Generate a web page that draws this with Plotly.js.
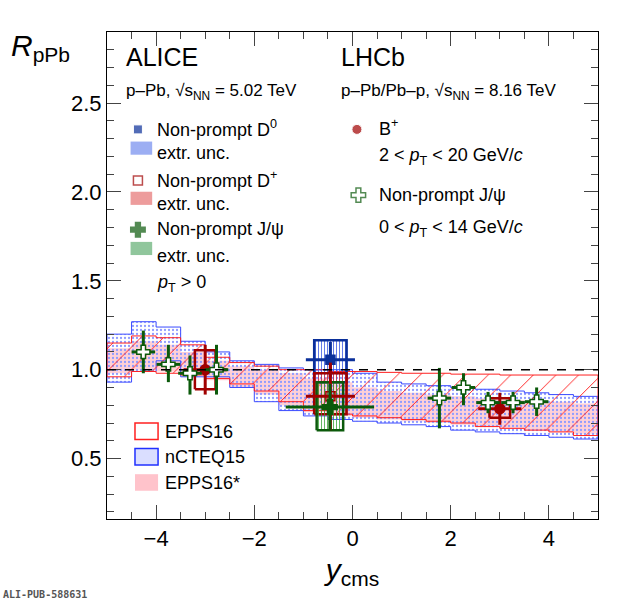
<!DOCTYPE html>
<html>
<head>
<meta charset="utf-8">
<script src="https://cdn.plot.ly/plotly-3.0.1.min.js"></script>
<style>body{margin:0;background:#fff}#plot{width:620px;height:600px}</style>
</head>
<body>
<div id="plot"></div>
<script>
// model bands: 20 bins of 0.5 in y_cms
const binEdges = [-5,-4.5,-4,-3.5,-3,-2.5,-2,-1.5,-1,-0.5,0,0.5,1,1.5,2,2.5,3,3.5,4,4.5,5];
const ncteqHi = [1.20,1.27,1.24,1.16,1.10,1.05,1.03,1.01,1.00,1.00,0.98,0.93,0.92,0.91,0.90,0.89,0.88,0.87,0.86,0.85];
const ncteqLo = [0.93,0.99,1.05,0.96,0.96,0.90,0.82,0.77,0.74,0.72,0.71,0.70,0.69,0.68,0.66,0.65,0.64,0.63,0.62,0.61];
const eppsHi  = [1.15,1.19,1.18,1.14,1.07,1.04,1.02,1.00,1.00,0.99,0.99,0.985,0.98,0.98,0.975,0.975,0.97,0.97,0.97,0.97];
const eppsLo  = [0.96,0.99,0.98,0.97,0.95,0.92,0.88,0.82,0.77,0.75,0.74,0.73,0.72,0.71,0.70,0.68,0.67,0.66,0.65,0.63];
const eppsStarHi = [1.12,1.16,1.14,1.10,1.05,1.02,1.00,0.98,0.95,0.93,0.90,0.88,0.87,0.86,0.85,0.84,0.83,0.82,0.82,0.81];
const eppsStarLo = [0.98,1.00,0.99,0.97,0.94,0.90,0.86,0.80,0.76,0.74,0.73,0.72,0.71,0.70,0.69,0.68,0.67,0.66,0.65,0.64];

// ALICE
const aliceD0 = {y: [-0.45], r: [1.056], stat: [0.10], xerr: [0.5], boxW: [0.33], boxLo: [0.93], boxHi: [1.165]};
const aliceDplus = {y: [-0.45], r: [0.85], stat: [0.19], xerr: [0.5], boxW: [0.33], boxLo: [0.75], boxHi: [0.98]};
const aliceJpsi = {y: [-0.46], r: [0.79], stat: [0.13], xerr: [0.9], boxW: [0.27], boxLo: [0.66], boxHi: [0.93]};

// LHCb
const lhcbB = {y: [-3.0, 3.0], r: [1.00, 0.78], stat: [0.14, 0.09], xerr: [0.44, 0.44], boxW: [0.21, 0.21], boxLo: [0.89, 0.73], boxHi: [1.11, 0.84]};
const lhcbJpsiY = [-4.26, -3.75, -3.31, -2.77, 1.77, 2.26, 2.76, 3.27, 3.75];
const lhcbJpsiR = [1.10, 1.03, 0.98, 1.00, 0.84, 0.90, 0.815, 0.815, 0.82];
const lhcbJpsiHi = [0.12, 0.11, 0.10, 0.14, 0.17, 0.08, 0.06, 0.06, 0.08];
const lhcbJpsiLo = [0.12, 0.10, 0.12, 0.14, 0.17, 0.10, 0.06, 0.06, 0.08];

const FONT = "Liberation Sans, Arial, sans-serif";
const DRED = "#a00000", DGREEN = "#0b5a0b", DBLUE = "#0a2f9a";

function band(hi, lo) {
    var x = [], y = [];
    for (var i = 0; i < hi.length; i++) { x.push(binEdges[i], binEdges[i+1]); y.push(hi[i], hi[i]); }
    for (var i = lo.length - 1; i >= 0; i--) { x.push(binEdges[i+1], binEdges[i]); y.push(lo[i], lo[i]); }
    x.push(x[0]); y.push(y[0]);
    return {x: x, y: y};
}

function boxes(set, color, pattern, bg) {
    var x = [], y = [];
    set.y.forEach((c, i) => {
        x.push(c - set.boxW[i], c + set.boxW[i], c + set.boxW[i], c - set.boxW[i], c - set.boxW[i], null);
        y.push(set.boxLo[i], set.boxLo[i], set.boxHi[i], set.boxHi[i], set.boxLo[i], null);
    });
    var t = {x: x, y: y, mode: "lines", line: {color: color, width: 2.5}, showlegend: false, hoverinfo: "skip"};
    if (pattern) {
        t.fill = "toself";
        t.fillcolor = "rgba(0,0,0,0)";
        t.fillpattern = {shape: pattern, fgcolor: bg, size: 3, solidity: 0.25};
    }
    return t;
}

function points(set, color, symbol, size) {
    return {x: set.y, y: set.r, mode: "markers", showlegend: false,
        marker: {symbol: symbol, color: color, size: size, line: {color: color, width: 1.5}},
        error_y: {type: "data", array: set.stat, color: color, thickness: 3, width: 0},
        error_x: {type: "data", array: set.xerr, color: color, thickness: 3, width: 0}};
}

var bs = band(eppsStarHi, eppsStarLo), bn = band(ncteqHi, ncteqLo), be = band(eppsHi, eppsLo);
var data = [
    {x: bs.x, y: bs.y, fill: "toself", fillcolor: "rgba(255,170,180,0.55)", line: {width: 0}, mode: "lines", showlegend: false, hoverinfo: "skip"},
    {x: bn.x, y: bn.y, fill: "toself", fillcolor: "rgba(0,0,0,0)", fillpattern: {shape: ".", fgcolor: "#8f9bff", size: 4, solidity: 0.25},
        line: {color: "#3b4bff", width: 1}, mode: "lines", showlegend: false, hoverinfo: "skip"},
    {x: be.x, y: be.y, fill: "toself", fillcolor: "rgba(0,0,0,0)", fillpattern: {shape: "/", fgcolor: "#ff2020", size: 16, solidity: 0.06},
        line: {color: "#ff2020", width: 1}, mode: "lines", showlegend: false, hoverinfo: "skip"},
    boxes(aliceD0, DBLUE, "|", "#3050e0"),
    boxes(aliceDplus, DRED, "|", "#e03030"),
    boxes(aliceJpsi, DGREEN, "|", "#30a030"),
    boxes(lhcbB, DRED, null),
    points(aliceD0, DBLUE, "square", 9),
    points(aliceDplus, DRED, "square-open", 9),
    points(aliceJpsi, DGREEN, "cross", 12),
    points(lhcbB, DRED, "circle", 10),
    {x: lhcbJpsiY, y: lhcbJpsiR, mode: "markers", showlegend: false,
        marker: {symbol: "cross", color: "white", size: 11, line: {color: DGREEN, width: 1.5}},
        error_y: {type: "data", symmetric: false, array: lhcbJpsiHi, arrayminus: lhcbJpsiLo, color: DGREEN, thickness: 3, width: 0},
        error_x: {type: "data", array: lhcbJpsiY.map(() => 0.24), color: DGREEN, thickness: 3, width: 0}},
    // legend glyphs on an overlay 0..1 axis
    {x: [0.063, 0.509], y: [0.80, 0.80], xaxis: "x2", yaxis: "y2", mode: "markers", showlegend: false,
        marker: {symbol: ["square", "circle"], color: [DBLUE, DRED], size: [9, 10]}},
    {x: [0.063, 0.063, 0.512], y: [0.695, 0.594, 0.665], xaxis: "x2", yaxis: "y2", mode: "markers", showlegend: false,
        marker: {symbol: ["square-open", "cross", "cross"], color: [DRED, DGREEN, "white"], size: [9, 12, 12],
            line: {color: [DRED, DGREEN, DGREEN], width: 1.5}}}
];

function rect(x0, y0, x1, y1, fill, line) {
    return {type: "rect", xref: "paper", yref: "paper", x0: x0, y0: y0, x1: x1, y1: y1,
        fillcolor: fill, line: {color: line || fill, width: line ? 1.5 : 0}};
}
function note(x, y, text, size, anchor) {
    return {xref: "paper", yref: "paper", x: x, y: y, text: text, showarrow: false,
        xanchor: anchor || "left", yanchor: "middle", font: {family: FONT, size: size, color: "black"}};
}

var sqrt = "\u221As<sub>NN</sub>";
var layout = {
    width: 620, height: 600,
    margin: {l: 107, r: 22, t: 32, b: 81},
    paper_bgcolor: "white", plot_bgcolor: "white",
    font: {family: FONT, size: 22, color: "black"},
    xaxis: {range: [-5, 5], ticks: "inside", ticklen: 14, tickwidth: 1, dtick: 2, mirror: "allticks",
        showline: true, linecolor: "black", showgrid: false, zeroline: false,
        minor: {ticks: "inside", ticklen: 7, dtick: 0.5},
        title: {text: "<i>y</i><sub>cms</sub>", font: {size: 30}, standoff: 8}},
    yaxis: {range: [0.16, 2.9], ticks: "inside", ticklen: 14, tickwidth: 1, dtick: 0.5, tickformat: ".1f",
        mirror: "allticks", showline: true, linecolor: "black", showgrid: false, zeroline: false,
        minor: {ticks: "inside", ticklen: 7, dtick: 0.1}},
    xaxis2: {overlaying: "x", range: [0, 1], visible: false},
    yaxis2: {overlaying: "y", range: [0, 1], visible: false},
    shapes: [
        {type: "line", xref: "x", yref: "y", x0: -5, x1: 5, y0: 1, y1: 1, line: {color: "black", width: 1.5, dash: "dash"}},
        rect(0.048, 0.748, 0.092, 0.775, "rgba(90,120,235,0.6)"),
        rect(0.048, 0.645, 0.092, 0.672, "rgba(225,90,90,0.6)"),
        rect(0.048, 0.542, 0.092, 0.569, "rgba(70,160,90,0.6)"),
        rect(0.057, 0.163, 0.104, 0.197, "rgba(0,0,0,0)", "#ff2020"),
        rect(0.057, 0.111, 0.104, 0.145, "rgba(150,160,255,0.35)", "#2030ff"),
        rect(0.057, 0.058, 0.104, 0.092, "rgba(255,180,190,0.8)")
    ],
    annotations: [
        {xref: "paper", yref: "paper", x: -0.2, y: 1.01, xanchor: "left", yanchor: "top", showarrow: false,
            text: "<i>R</i><sub>pPb</sub>", font: {family: FONT, size: 30}},
        note(0.035, 0.949, "ALICE", 25),
        note(0.473, 0.949, "LHCb", 25),
        note(0.035, 0.877, "p\u2013Pb, " + sqrt + " = 5.02 TeV", 17),
        note(0.473, 0.877, "p\u2013Pb/Pb\u2013p, " + sqrt + " = 8.16 TeV", 17),
        note(0.098, 0.802, "Non-prompt D<sup>0</sup>", 18),
        note(0.098, 0.751, "extr. unc.", 18),
        note(0.098, 0.697, "Non-prompt D<sup>+</sup>", 18),
        note(0.098, 0.646, "extr. unc.", 18),
        note(0.098, 0.595, "Non-prompt J/\u03c8", 18),
        note(0.098, 0.541, "extr. unc.", 18),
        note(0.098, 0.484, "<i>p</i><sub>T</sub> > 0", 18),
        note(0.55, 0.804, "B<sup>+</sup>", 18),
        note(0.55, 0.745, "2 < <i>p</i><sub>T</sub> < 20 GeV/<i>c</i>", 18),
        note(0.55, 0.665, "Non-prompt J/\u03c8", 18),
        note(0.55, 0.597, "0 < <i>p</i><sub>T</sub> < 14 GeV/<i>c</i>", 18),
        note(0.114, 0.179, "EPPS16", 18),
        note(0.114, 0.127, "nCTEQ15", 18),
        note(0.114, 0.074, "EPPS16*", 18),
        {xref: "paper", yref: "paper", x: -0.215, y: -0.155, xanchor: "left", yanchor: "middle", showarrow: false,
            text: "<b>ALI-PUB-588631</b>", font: {family: "DejaVu Sans Mono, monospace", size: 10, color: "#555"}}
    ]
};

Plotly.newPlot("plot", data, layout, {displayModeBar: false, staticPlot: true});
</script>
</body>
</html>
